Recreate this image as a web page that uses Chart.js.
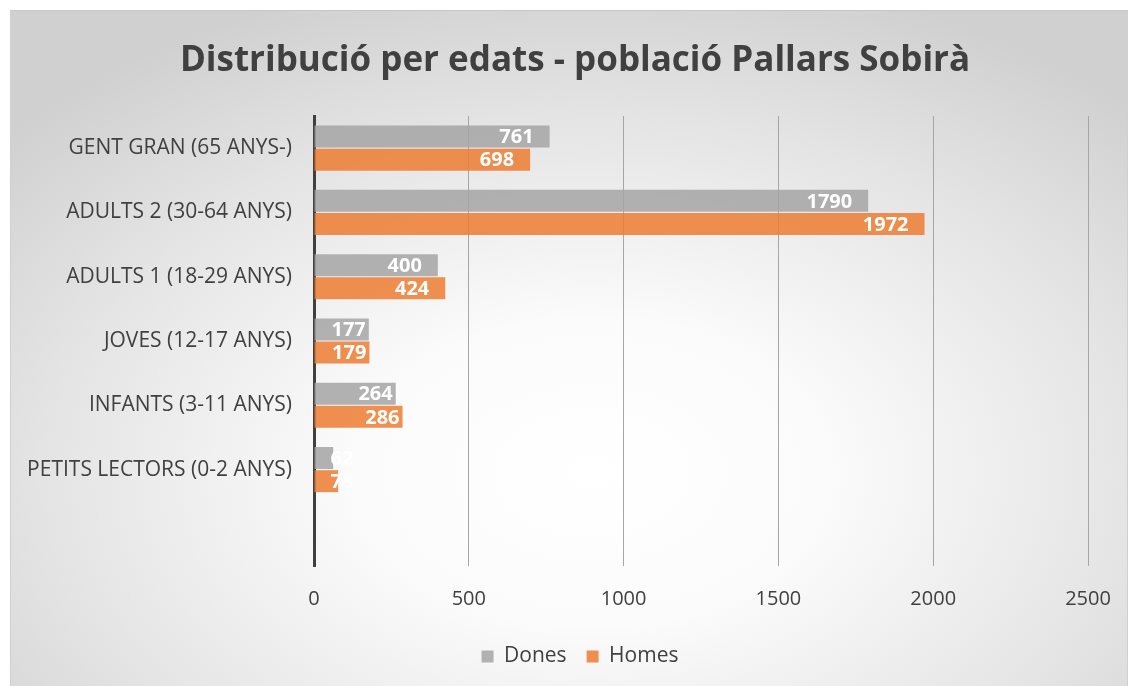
<!DOCTYPE html>
<html>
<head>
<meta charset="utf-8">
<script src="https://cdn.jsdelivr.net/npm/chart.js@4"></script>
<style>
  html, body { margin: 0; padding: 0; background: #fff; }
  #frame {
    position: absolute; left: 10px; top: 10px; width: 1116px; height: 680px;
    border-top: 1px solid #c8c8c8; border-left: 1px solid #d0d0d0; border-right: 1px solid #d0d0d0;
    background: radial-gradient(ellipse 70% 75% at 52% 68%, #ffffff 0%, #fbfbfb 30%, #e4e4e4 70%, #d0d0d0 100%);
  }
  #wrap { position: absolute; left: 0; top: 0; width: 1134px; height: 686px; }
</style>
</head>
<body>
<div id="frame"></div>
<div id="wrap"><canvas id="chart"></canvas></div>
<script>
// dades llegides del gràfic
const categories = [
  "GENT GRAN (65 ANYS-)",
  "ADULTS 2 (30-64 ANYS)",
  "ADULTS 1 (18-29 ANYS)",
  "JOVES (12-17 ANYS)",
  "INFANTS (3-11 ANYS)",
  "PETITS LECTORS (0-2 ANYS)",
  ""
];
const dones = [761, 1790, 400, 177, 264, 62, null];
const homes = [698, 1972, 424, 179, 286, 78, null];
const xMax = 2500;
const xStep = 500;

const grey = "rgba(165,165,165,0.85)";
const orange = "rgba(237,125,49,0.85)";
const textColor = "#404040";
const font = "'Open Sans', sans-serif";

// etiquetes blanques dins del final de la barra (estil Excel)
const barLabels = {
  id: "barLabels",
  afterDatasetsDraw(chart) {
    const ctx = chart.ctx;
    ctx.save();
    ctx.font = "bold 20px " + font;
    ctx.fillStyle = "#ffffff";
    ctx.textAlign = "right";
    ctx.textBaseline = "middle";
    chart.data.datasets.forEach((ds, i) => {
      chart.getDatasetMeta(i).data.forEach((bar, j) => {
        const v = ds.data[j];
        if (v == null) return;
        const txt = String(v);
        const tw = ctx.measureText(txt).width;
        const w = bar.x - bar.base;
        const pad = w > 100 ? 16 : 3;
        const right = Math.max(bar.x - pad, bar.base + 16 + tw);
        ctx.fillText(txt, right, bar.y + 1);
      });
    });
    ctx.restore();
  }
};

// títol i llegenda centrats com a l'Excel (una mica a la dreta)
const shiftBoxes = {
  id: "shiftBoxes",
  afterLayout(chart) {
    const t = chart.titleBlock;
    if (t) { t.left += 26; t.right += 26; }
    const l = chart.legend;
    if (l) { l.left += 31; l.right += 31; }
  }
};

new Chart(document.getElementById("chart"), {
  type: "bar",
  data: {
    labels: categories,
    datasets: [
      { label: "Dones", data: dones, backgroundColor: grey, borderColor: grey },
      { label: "Homes", data: homes, backgroundColor: orange, borderColor: orange }
    ]
  },
  options: {
    indexAxis: "y",
    responsive: true,
    maintainAspectRatio: false,
    animation: false,
    categoryPercentage: 0.72,
    barPercentage: 0.95,
    layout: { padding: { left: 10, right: 46, top: 40, bottom: 9 } },
    plugins: {
      title: {
        display: true,
        text: "Distribució per edats - població Pallars Sobirà",
        color: textColor,
        font: { family: font, size: 35, weight: "bold" },
        padding: { top: 0, bottom: 34 }
      },
      legend: {
        position: "bottom",
        labels: {
          color: textColor,
          font: { family: font, size: 21 },
          boxWidth: 12, boxHeight: 12,
          padding: 20
        }
      },
      tooltip: { enabled: false }
    },
    scales: {
      x: {
        min: 0, max: xMax,
        afterFit: (s) => { s.height = 60; },
        ticks: {
          stepSize: xStep, color: textColor, font: { family: font, size: 20 }, padding: 21,
          callback: (v) => String(v)
        },
        grid: { color: "#a6a6a6", lineWidth: 1, drawTicks: false },
        border: { display: false }
      },
      y: {
        afterFit: (s) => { s.width = 314 - 10; },
        ticks: { color: textColor, font: { family: font, size: 21 }, padding: 22, autoSkip: false },
        grid: { display: false, drawTicks: false },
        border: { display: true, color: "#404040", width: 3 }
      }
    }
  },
  plugins: [barLabels, shiftBoxes]
});
</script>
</body>
</html>
